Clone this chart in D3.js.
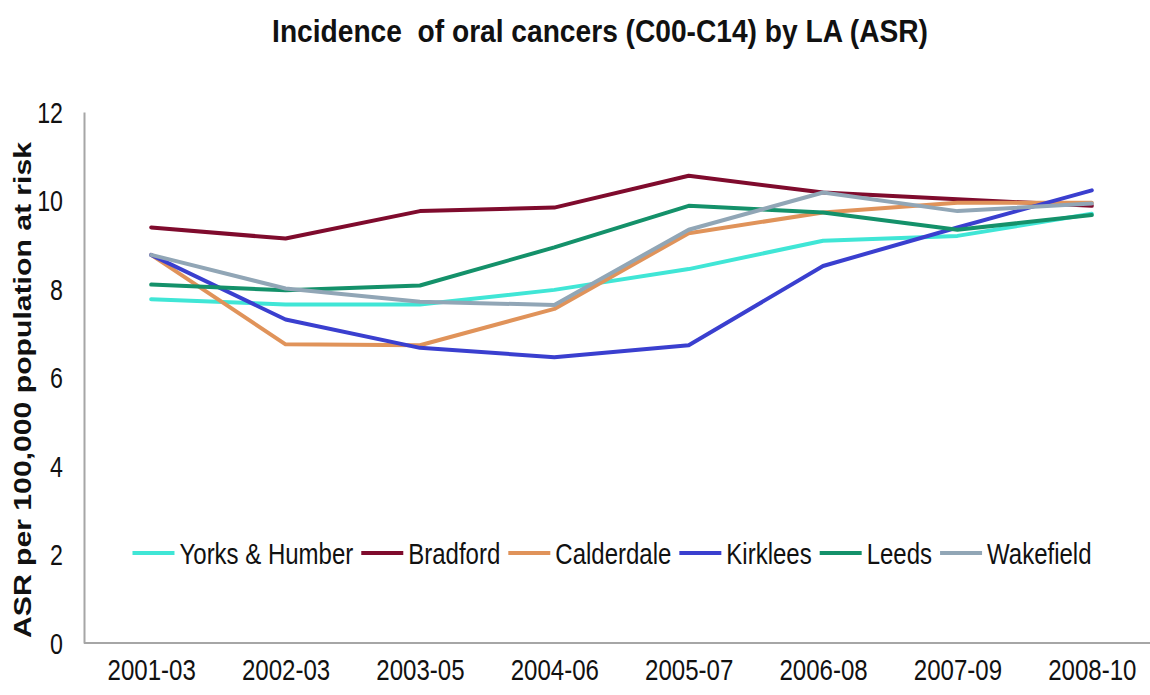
<!DOCTYPE html>
<html>
<head>
<meta charset="utf-8">
<script src="https://cdn.jsdelivr.net/npm/d3@7"></script>
<style>
  html, body { margin: 0; padding: 0; background: #fff; }
  svg { display: block; }
  text { font-family: "Liberation Sans", Arial, sans-serif; fill: #111; }
</style>
</head>
<body>
<svg id="chart" width="1150" height="695"></svg>
<script>
// Period labels along the x axis
const periods = ["2001-03", "2002-03", "2003-05", "2004-06", "2005-07", "2006-08", "2007-09", "2008-10"];

// Age-standardised rates per 100,000 for each area
const yorksHumber = [7.77, 7.65, 7.65, 7.98, 8.45, 9.09, 9.20, 9.70];
const bradford    = [9.39, 9.14, 9.76, 9.84, 10.56, 10.18, 10.03, 9.88];
const calderdale  = [8.77, 6.75, 6.73, 7.55, 9.26, 9.73, 9.95, 9.95];
const kirklees    = [8.77, 7.31, 6.67, 6.46, 6.73, 8.52, 9.39, 10.23];
const leeds       = [8.10, 7.97, 8.08, 8.94, 9.88, 9.73, 9.34, 9.67];
const wakefield   = [8.77, 8.01, 7.71, 7.64, 9.34, 10.18, 9.76, 9.93];

const seriesNames = ["Yorks & Humber", "Bradford", "Calderdale", "Kirklees", "Leeds", "Wakefield"];
const seriesValues = [yorksHumber, bradford, calderdale, kirklees, leeds, wakefield];
const seriesColors = ["#40e6d6", "#7f0b2d", "#e0935a", "#3a3fcf", "#14916a", "#91a6b6"];

const yTicks = [0, 2, 4, 6, 8, 10, 12];

const svg = d3.select("#chart");

const x = d3.scalePoint().domain(periods).range([84, 1159]).padding(0.5);
const y = d3.scaleLinear().domain([0, 12]).range([643, 112]);

// Condensed lettering: glyphs keep their height, narrowed horizontally
const SQX = 0.82;

// Title
svg.append("text")
  .attr("transform", "translate(600,42) scale(0.88,1)")
  .attr("text-anchor", "middle")
  .attr("xml:space", "preserve")
  .style("font-size", "32px").style("font-weight", "bold")
  .text("Incidence  of oral cancers (C00-C14) by LA (ASR)");

// Y axis
const yAxis = svg.append("g")
  .attr("transform", "translate(84,0)")
  .call(d3.axisLeft(y).tickValues(yTicks).tickSize(0).tickPadding(21).tickFormat(d3.format("d")));
yAxis.select(".domain").attr("stroke", "#a6a6a6").attr("stroke-width", 2);
yAxis.selectAll(".tick text")
  .style("font-size", "29px").style("font-family", "'Liberation Sans', Arial, sans-serif")
  .attr("fill", "#111").attr("dy", "0.36em")
  .attr("x", -21 / 0.8)
  .attr("transform", "scale(0.8,1)");

// X axis
const xAxis = svg.append("g")
  .attr("transform", "translate(0,643)")
  .call(d3.axisBottom(x).tickSize(0).tickSizeOuter(0).tickPadding(16));
xAxis.select(".domain").attr("d", "M84,0H1150").attr("stroke", "#a6a6a6").attr("stroke-width", 2);
xAxis.selectAll(".tick text")
  .style("font-size", "29px").style("font-family", "'Liberation Sans', Arial, sans-serif")
  .attr("fill", "#111").attr("dy", "0.72em")
  .attr("transform", "scale(0.83,1)");

// Axis title: full-height glyphs, narrowed across the line direction
svg.append("text")
  .attr("transform", `translate(31,390) scale(${SQX},1) rotate(-90)`)
  .attr("text-anchor", "middle")
  .style("font-size", "29px").style("font-weight", "bold")
  .text("ASR per 100,000 population at risk")
  .attr("textLength", 496).attr("lengthAdjust", "spacingAndGlyphs");

// Lines
const line = d3.line()
  .x((d, i) => x(periods[i]))
  .y(d => y(d));

svg.append("g").selectAll("path")
  .data(seriesValues)
  .join("path")
  .attr("d", d => line(d))
  .attr("fill", "none")
  .attr("stroke", (d, i) => seriesColors[i])
  .attr("stroke-width", 4)
  .attr("stroke-linejoin", "round")
  .attr("stroke-linecap", "round");

// Legend
const legend = svg.append("g");
let cursor = 0;
seriesNames.forEach((name, i) => {
  const item = legend.append("g").attr("transform", `translate(${cursor},0)`);
  item.append("line")
    .attr("x1", 0).attr("x2", 42).attr("y1", 0).attr("y2", 0)
    .attr("stroke", seriesColors[i]).attr("stroke-width", 4);
  const t = item.append("text")
    .attr("transform", `translate(47,0) scale(0.8,1)`)
    .attr("dy", "0.36em")
    .style("font-size", "30px")
    .text(name);
  const w = t.node().getComputedTextLength() * 0.8;
  cursor += 47 + w + 8;
});
const legendWidth = cursor - 8;
legend.attr("transform", `translate(${612 - legendWidth / 2},553)`);
</script>
</body>
</html>
